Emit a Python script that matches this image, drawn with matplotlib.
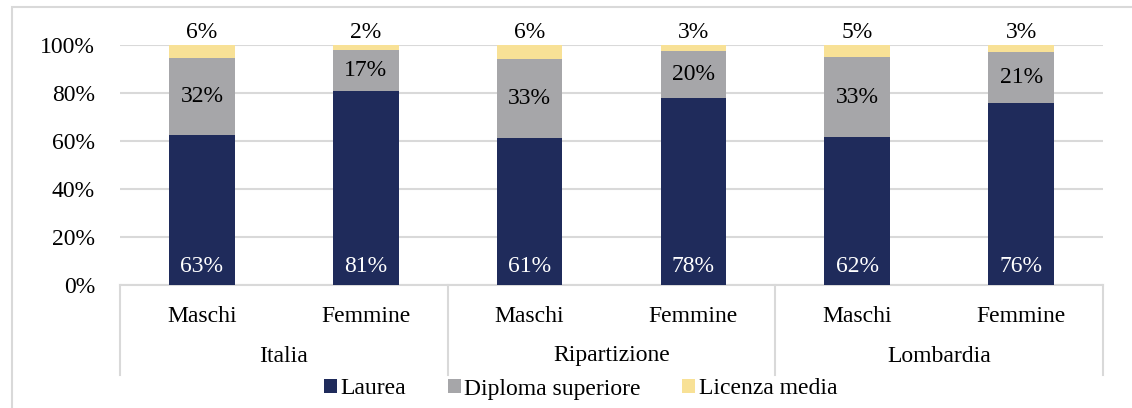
import matplotlib.pyplot as plt
from matplotlib.patches import Rectangle

plt.rcParams['font.family'] = ['Liberation Serif', 'DejaVu Serif']

# dati
categorie = ['Maschi', 'Femmine', 'Maschi', 'Femmine', 'Maschi', 'Femmine']
gruppi = ['Italia', 'Ripartizione', 'Lombardia']
laurea = [62.6, 80.9, 61.4, 77.8, 61.8, 75.9]
diploma = [31.8, 17.0, 32.8, 19.6, 33.0, 21.0]
licenza = [5.6, 2.1, 5.8, 2.6, 5.2, 3.1]

col_laurea = '#1f2b5b'
col_diploma = '#a6a6a9'
col_licenza = '#f8e196'

fig = plt.figure(figsize=(11.32, 4.08), dpi=100)
ax = fig.add_axes([120 / 1132, 1 - 285 / 408, (1103 - 120) / 1132, (285 - 45) / 408])

x = list(range(len(categorie)))
w = 0.4
b2 = [a for a in laurea]
b3 = [a + b for a, b in zip(laurea, diploma)]
ax.bar(x, laurea, w, color=col_laurea, label='Laurea', zorder=3)
ax.bar(x, diploma, w, bottom=b2, color=col_diploma, label='Diploma superiore', zorder=3)
ax.bar(x, licenza, w, bottom=b3, color=col_licenza, label='Licenza media', zorder=3)

fs = 17
for i in x:
    ax.text(i, 7.5, f'{laurea[i]:.0f}%', ha='center', va='center', color='white', fontsize=fs, zorder=4)
    ax.text(i, b2[i] + diploma[i] / 2, f'{diploma[i]:.0f}%', ha='center', va='center', color='black', fontsize=fs, zorder=4)
    ax.text(i, b3[i] + licenza[i] + 1.0, f'{licenza[i]:.0f}%', ha='center', va='bottom', color='black', fontsize=fs, clip_on=False)

ax.set_xlim(-0.5, 5.5)
ax.set_ylim(0, 100)
ax.set_yticks(range(0, 101, 20))
ax.set_yticklabels([f'{v}%' for v in range(0, 101, 20)], fontsize=fs)
ax.yaxis.grid(True, color='#d9d9d9', linewidth=1.5, zorder=0)
ax.tick_params(axis='y', length=0, pad=18)
ax.set_xticks([])
for s in ['top', 'right', 'left']:
    ax.spines[s].set_visible(False)
ax.spines['bottom'].set_color('#d9d9d9')
ax.spines['bottom'].set_linewidth(1.5)

# asse a due livelli
tr = ax.get_xaxis_transform()
yb = -(375 - 285) / 240
for xs in [-0.5, 1.5, 3.5, 5.5]:
    ax.plot([xs, xs], [0, yb], transform=tr, color='#d9d9d9', linewidth=1.5, clip_on=False)
for i, c in enumerate(categorie):
    ax.text(i, -(316 - 285) / 240, c, transform=tr, ha='center', va='center', fontsize=fs)
for j, g in enumerate(gruppi):
    ax.text(2 * j + 0.5, -(356 - 285) / 240, g, transform=tr, ha='center', va='center', fontsize=fs)

fig.legend(loc='center', bbox_to_anchor=(0.513, 1 - 389 / 408), ncol=3, frameon=False,
           fontsize=fs, handlelength=0.55, handleheight=0.55, handletextpad=0.15, columnspacing=1.75)

# cornice del grafico
fig.patches.append(Rectangle((12 / 1132, -0.05), 1.1, 1.05 - 7 / 408,
                             transform=fig.transFigure, fill=False, edgecolor='#d9d9d9', linewidth=1.5))

fig.savefig('out.png', dpi=100)
